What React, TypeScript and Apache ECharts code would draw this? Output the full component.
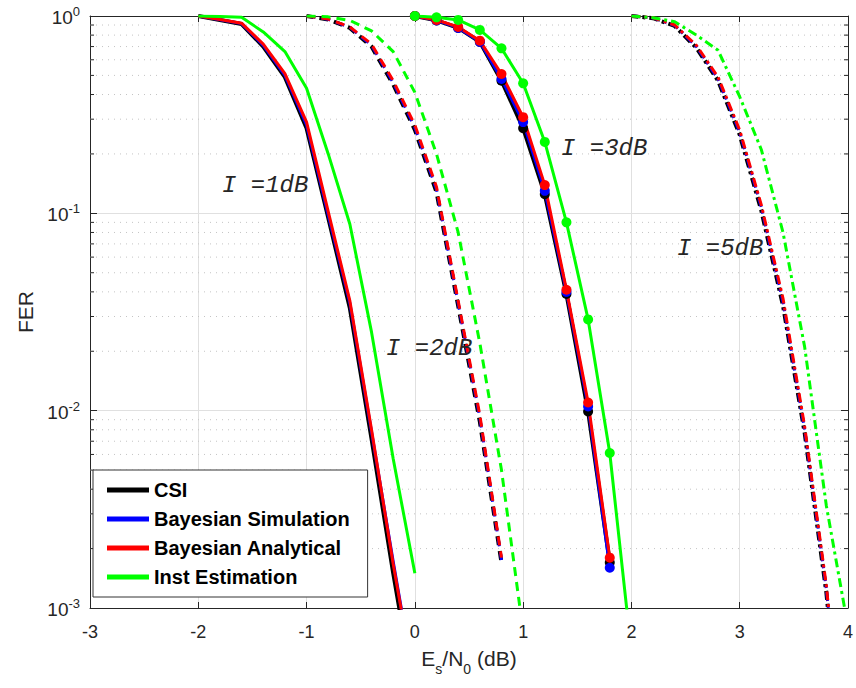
import React, { useEffect, useRef } from "react";
import * as echarts from "echarts";

// ---------- data ----------
const X_I1 = [-2, -1.8, -1.6, -1.4, -1.2, -1.0, -0.8, -0.6, -0.4, -0.2, 0];
const CSI_I1 = [1.0, 0.955, 0.91, 0.7, 0.49, 0.27, 0.095, 0.033, 0.0072, 0.0015, 0.00035];
const BSIM_I1 = [1.0, 0.958, 0.915, 0.71, 0.5, 0.28, 0.098, 0.035, 0.0078, 0.00172, 0.0004];
const BANA_I1 = [1.0, 0.96, 0.92, 0.72, 0.51, 0.29, 0.102, 0.036, 0.008, 0.00167, 0.0004];
const INST_I1 = [1.0, 0.995, 0.985, 0.83, 0.66, 0.43, 0.2, 0.088, 0.025, 0.0057, 0.0015];

const X_I2 = [-1, -0.8, -0.6, -0.4, -0.2, 0, 0.2, 0.4, 0.6, 0.8];
const CSI_I2 = [1.0, 0.96, 0.87, 0.7, 0.45, 0.265, 0.128, 0.034, 0.0088, 0.0017];
const BSIM_I2 = [1.0, 0.962, 0.875, 0.71, 0.46, 0.272, 0.132, 0.035, 0.0092, 0.00175];
const BANA_I2 = [1.0, 0.965, 0.88, 0.72, 0.47, 0.28, 0.136, 0.036, 0.0095, 0.0018];
const X_I2_INST = [-1, -0.8, -0.6, -0.4, -0.2, 0, 0.2, 0.4, 0.6, 0.8, 1.0];
const INST_I2 = [1.0, 0.99, 0.95, 0.84, 0.66, 0.41, 0.2, 0.08, 0.022, 0.005, 0.00076];

const X_I3 = [0, 0.2, 0.4, 0.6, 0.8, 1.0, 1.2, 1.4, 1.6, 1.8];
const CSI_I3 = [1.0, 0.95, 0.87, 0.74, 0.47, 0.27, 0.125, 0.039, 0.0099, 0.0017];
const BSIM_I3 = [1.0, 0.95, 0.87, 0.74, 0.48, 0.29, 0.13, 0.04, 0.0105, 0.0016];
const BANA_I3 = [1.0, 0.955, 0.88, 0.75, 0.508, 0.307, 0.139, 0.041, 0.011, 0.0018];
const X_I3_INST = [0, 0.2, 0.4, 0.6, 0.8, 1.0, 1.2, 1.4, 1.6, 1.8, 2.0];
const INST_I3 = [1.0, 0.985, 0.955, 0.85, 0.686, 0.456, 0.23, 0.09, 0.029, 0.0061, 0.0006];

const X_I5 = [2.0, 2.2, 2.4, 2.6, 2.8, 3.0, 3.2, 3.4, 3.6, 3.8, 4.0];
const CSI_I5 = [1.0, 0.975, 0.89, 0.69, 0.47, 0.25, 0.103, 0.034, 0.0077, 0.0012, 0.00009];
const BSIM_I5 = [1.0, 0.978, 0.895, 0.7, 0.48, 0.257, 0.107, 0.0355, 0.008, 0.00125, 0.0001];
const BANA_I5 = [1.0, 0.98, 0.9, 0.71, 0.49, 0.264, 0.11, 0.037, 0.0083, 0.0013, 0.0001];
const INST_I5 = [1.0, 0.98, 0.935, 0.8, 0.67, 0.39, 0.21, 0.08, 0.021, 0.0033, 0.0008];

const X_TICKS_MIN = -3;
const X_TICKS_MAX = 4;
const MINOR_Y = [
  0.002, 0.003, 0.004, 0.005, 0.006, 0.007, 0.008, 0.009,
  0.02, 0.03, 0.04, 0.05, 0.06, 0.07, 0.08, 0.09,
  0.2, 0.3, 0.4, 0.5, 0.6, 0.7, 0.8, 0.9,
];
const LEGEND_NAMES = ["CSI", "Bayesian Simulation", "Bayesian Analytical", "Inst Estimation"];
const ANNOTATIONS = ["I =1dB", "I =2dB", "I =3dB", "I =5dB"];

// ---------- styles ----------
const COLORS: Record<string, string> = {
  CSI: "#000000",
  "Bayesian Simulation": "#0000ff",
  "Bayesian Analytical": "#ff0000",
  "Inst Estimation": "#00ff00",
};
const WIDTHS: Record<string, number> = {
  CSI: 4,
  "Bayesian Simulation": 3,
  "Bayesian Analytical": 3,
  "Inst Estimation": 3,
};
const DASH = [9, 6];
const DASHDOT = [9, 4, 3, 4];

function mk(name: string, xs: number[], ys: number[], dash: any, marker: boolean) {
  return {
    type: "line",
    name,
    data: xs.map((x, i) => [x, ys[i]]),
    xAxisIndex: 0,
    yAxisIndex: 0,
    symbol: marker ? "circle" : "none",
    showSymbol: marker,
    symbolSize: 10,
    itemStyle: { color: COLORS[name] },
    lineStyle: {
      color: COLORS[name],
      width: WIDTHS[name],
      type: dash,
      dashOffset: name === "CSI" && dash !== "solid" ? 2 : 0,
    },
    clip: true,
    silent: true,
    z: 3,
  };
}

export default function App() {
  const ref = useRef<HTMLDivElement>(null);
  useEffect(() => {
    if (!ref.current) return;
    const chart = echarts.init(ref.current, null, { renderer: "svg" });
    const axisColor = "#262626";
    const sans = '"Liberation Sans", Arial, sans-serif';
    const series: any[] = [
      {
        type: "custom",
        name: "minor",
        silent: true,
        z: 1,
        clip: false,
        data: MINOR_Y.map((v) => [X_TICKS_MIN, v]),
        renderItem: (params: any, api: any) => {
          const v = api.value(1);
          const p1 = api.coord([X_TICKS_MIN, v]);
          const p2 = api.coord([X_TICKS_MAX, v]);
          return {
            type: "group",
            children: [
              {
                type: "line",
                shape: { x1: p1[0], y1: p1[1], x2: p2[0], y2: p2[1] },
                style: { stroke: "#c4c4c4", lineWidth: 1, lineDash: [1, 5] },
              },
              {
                type: "line",
                shape: { x1: p1[0], y1: p1[1], x2: p1[0] + 4, y2: p1[1] },
                style: { stroke: axisColor, lineWidth: 1 },
              },
              {
                type: "line",
                shape: { x1: p2[0] - 4, y1: p2[1], x2: p2[0], y2: p2[1] },
                style: { stroke: axisColor, lineWidth: 1 },
              },
            ],
          };
        },
      },
    ];
    const groups: [number[], number[], number[], number[], number[], number[], any, boolean][] = [
      [X_I1, CSI_I1, BSIM_I1, BANA_I1, X_I1, INST_I1, "solid", false],
      [X_I2, CSI_I2, BSIM_I2, BANA_I2, X_I2_INST, INST_I2, DASH, false],
      [X_I3, CSI_I3, BSIM_I3, BANA_I3, X_I3_INST, INST_I3, "solid", true],
      [X_I5, CSI_I5, BSIM_I5, BANA_I5, X_I5, INST_I5, DASHDOT, false],
    ];
    groups.forEach(([xs, c, bs, ba, xi, ins, dash, marker]) => {
      series.push(mk("CSI", xs, c, dash, marker));
      series.push(mk("Bayesian Simulation", xs, bs, dash, marker));
      series.push(mk("Bayesian Analytical", xs, ba, dash, marker));
      series.push(mk("Inst Estimation", xi, ins, dash, marker));
    });

    const annFont = 'italic 24px "Liberation Mono", "DejaVu Sans Mono", monospace';
    const annPos = [
      [222, 185],
      [386, 348],
      [561, 148],
      [677, 248],
    ];

    chart.setOption({
      animation: false,
      backgroundColor: "#ffffff",
      grid: { left: 90, right: 6, top: 16, bottom: 80, containLabel: false },
      legend: {
        data: LEGEND_NAMES.map((n) => ({ name: n, icon: "rect", itemStyle: { color: COLORS[n] } })),
        orient: "vertical",
        left: 93,
        top: 470,
        itemWidth: 42,
        itemHeight: 5,
        itemGap: 7,
        padding: [9, 18, 9, 14],
        borderColor: "#333333",
        borderWidth: 1,
        borderRadius: 0,
        backgroundColor: "#ffffff",
        selectedMode: false,
        textStyle: {
          fontFamily: sans,
          fontWeight: "bold",
          fontSize: 20,
          color: "#000000",
          lineHeight: 22,
        },
      },
      xAxis: [
        {
          type: "value",
          min: X_TICKS_MIN,
          max: X_TICKS_MAX,
          interval: 1,
          position: "bottom",
          name: "{n|E}{s|s}{n|/N}{s|0}{n| (dB)}",
          nameLocation: "middle",
          nameGap: 40,
          nameTextStyle: {
            rich: {
              n: { fontSize: 21, fontFamily: sans, color: axisColor, verticalAlign: "top", lineHeight: 24 },
              s: { fontSize: 14, fontFamily: sans, color: axisColor, verticalAlign: "top", lineHeight: 24, padding: [14, 0, 0, 0] },
            },
          },
          axisLine: { show: true, onZero: false, lineStyle: { color: axisColor, width: 1 } },
          axisTick: { show: true, inside: true, length: 6, lineStyle: { color: axisColor } },
          axisLabel: { fontSize: 18, color: axisColor, margin: 15, fontFamily: sans },
          splitLine: { show: true, lineStyle: { color: "#e0e0e0", width: 1 } },
        },
        {
          type: "value",
          min: X_TICKS_MIN,
          max: X_TICKS_MAX,
          interval: 1,
          position: "top",
          axisLine: { show: true, onZero: false, lineStyle: { color: axisColor, width: 1 } },
          axisTick: { show: true, inside: true, length: 6, lineStyle: { color: axisColor } },
          axisLabel: { show: false },
          splitLine: { show: false },
        },
      ],
      yAxis: [
        {
          type: "log",
          logBase: 10,
          min: 0.001,
          max: 1,
          splitNumber: 3,
          position: "left",
          name: "FER",
          nameLocation: "middle",
          nameGap: 54,
          nameTextStyle: { fontSize: 21, color: axisColor, fontFamily: sans },
          axisLine: { show: true, onZero: false, lineStyle: { color: axisColor, width: 1 } },
          axisTick: { show: true, inside: true, length: 7, lineStyle: { color: axisColor } },
          axisLabel: {
            margin: 10,
            formatter: (v: number) => "{b|10}{e|" + Math.round(Math.log10(v)) + "}",
            rich: {
              b: { fontSize: 19, color: axisColor, fontFamily: sans, verticalAlign: "bottom", lineHeight: 22 },
              e: { fontSize: 13, color: axisColor, fontFamily: sans, verticalAlign: "top", lineHeight: 22, padding: [0, 0, 12, 0] },
            },
          },
          splitLine: { show: true, lineStyle: { color: "#e0e0e0", width: 1 } },
        },
        {
          type: "log",
          logBase: 10,
          min: 0.001,
          max: 1,
          splitNumber: 3,
          position: "right",
          axisLine: { show: true, onZero: false, lineStyle: { color: axisColor, width: 1 } },
          axisTick: { show: true, inside: true, length: 7, lineStyle: { color: axisColor } },
          axisLabel: { show: false },
          splitLine: { show: false },
        },
      ],
      series,
      graphic: ANNOTATIONS.map((t, i) => ({
        type: "text",
        x: annPos[i][0],
        y: annPos[i][1],
        z: 10,
        silent: true,
        style: {
          text: t,
          font: annFont,
          fill: "#262626",
          textVerticalAlign: "middle",
          verticalAlign: "middle",
        },
      })),
    });
    return () => chart.dispose();
  }, []);
  return (
    <div
      ref={ref}
      style={{ position: "fixed", left: 0, top: 0, width: 856, height: 688, background: "#fff" }}
    />
  );
}
